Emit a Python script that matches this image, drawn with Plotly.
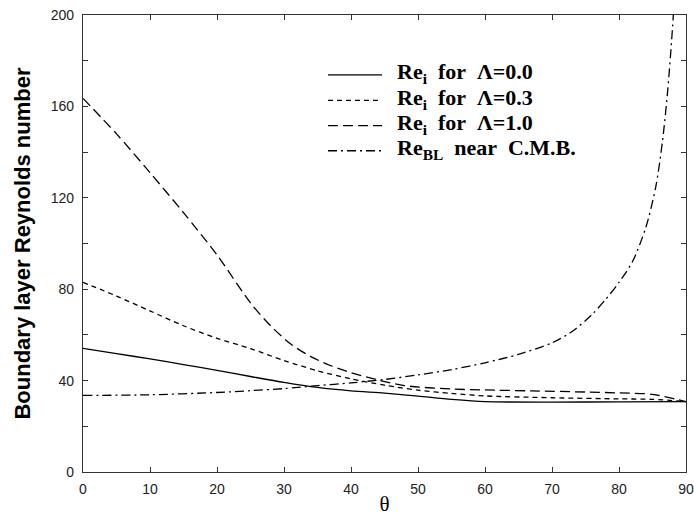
import plotly.graph_objects as go

# theta (degrees) and Reynolds numbers
theta_l0 = [0, 5, 10, 15, 20, 25, 30, 35, 40, 45, 50, 55, 60, 70, 80, 90]
re_l0 = [54.1, 51.8, 49.5, 47.0, 44.5, 41.8, 39.2, 37.0, 35.5, 34.5, 33.2, 31.8, 30.8, 30.6, 30.7, 30.8]

theta_l03 = [0, 5, 10, 15, 20, 25, 30, 35, 40, 45, 50, 55, 60, 70, 80, 85, 90]
re_l03 = [83.0, 77.0, 70.5, 64.0, 58.5, 54.0, 48.8, 44.3, 40.8, 38.0, 35.8, 34.4, 33.3, 32.5, 32.0, 31.8, 30.8]

theta_l1 = [0, 5, 10, 15, 20, 25, 28, 31, 34, 37, 40, 44, 48, 55, 60, 67, 75, 80, 85, 90]
re_l1 = [163.5, 148.0, 131.0, 113.5, 95.0, 74.0, 64.0, 56.0, 50.5, 46.5, 43.5, 40.3, 37.8, 36.3, 35.9, 35.5, 35.0, 34.6, 34.0, 30.8]

theta_bl = [0, 10, 20, 25, 30, 35, 40, 45, 50, 55, 60, 65, 70, 73, 76, 78, 80, 82, 84, 85.5, 86.5, 87.3, 88.0, 88.6]
re_bl = [33.5, 33.8, 34.8, 35.6, 36.5, 37.8, 39.0, 40.5, 42.5, 44.8, 47.8, 51.5, 56.5, 61.5, 69.0, 75.5, 83.0, 92.0, 107.0, 125.0, 145.0, 168.0, 195.0, 225.0]

names = [
    "<b>Re<sub>i</sub>\u00a0\u00a0for\u00a0\u00a0Λ=0.0</b>",
    "<b>Re<sub>i</sub>\u00a0\u00a0for\u00a0\u00a0Λ=0.3</b>",
    "<b>Re<sub>i</sub>\u00a0\u00a0for\u00a0\u00a0Λ=1.0</b>",
    "<b>Re<sub>BL</sub>\u00a0\u00a0near\u00a0\u00a0C.M.B.</b>",
]
dashes = ["solid", "5px,4px", "10px,5px", "9px,4px,2px,4px"]

fig = go.Figure()
series = [(theta_l0, re_l0), (theta_l03, re_l03), (theta_l1, re_l1), (theta_bl, re_bl)]
for (x, y), nm, dash in zip(series, names, dashes):
    fig.add_trace(go.Scatter(
        x=x, y=y, mode="lines", name=nm, showlegend=False,
        line=dict(color="black", width=1.3, dash=dash, shape="spline", smoothing=0.8),
        cliponaxis=True,
    ))

# hand-built legend (line samples + labels) in paper coordinates
leg_x0, leg_x1, leg_tx = 0.4063, 0.4959, 0.518
leg_rows = [0.869, 0.813, 0.758, 0.703]
for nm, dash, ly in zip(names, dashes, leg_rows):
    fig.add_shape(type="line", xref="paper", yref="paper", x0=leg_x0, x1=leg_x1, y0=ly, y1=ly,
                  line=dict(color="black", width=1.3, dash=dash))
    fig.add_annotation(x=leg_tx, y=ly + 0.004, xref="paper", yref="paper", text=nm, showarrow=False,
                       xanchor="left", yanchor="middle",
                       font=dict(family="Liberation Serif, Times New Roman", size=22, color="black"))

axis_common = dict(
    showgrid=False, zeroline=False, showline=True, linecolor="#333", linewidth=1.2,
    mirror="ticks", ticks="inside", ticklen=5, tickcolor="#333", automargin=False,
    tickfont=dict(family="Liberation Sans, Arial", size=14, color="#222"),
)

fig.update_xaxes(
    range=[0, 90], tickvals=list(range(0, 91, 10)), ticklabelstandoff=4,
    title=dict(text="θ", font=dict(family="Liberation Serif, Times New Roman", size=21, color="black"), standoff=2),
    **axis_common,
)
fig.update_yaxes(
    range=[0, 200], tickvals=[0, 40, 80, 120, 160, 200], ticklabelstandoff=5,
    minor=dict(tickvals=[20, 60, 100, 140, 180], ticks="inside", ticklen=5, tickcolor="#333"),
    title=dict(text="<b>Boundary layer Reynolds number</b>",
               font=dict(family="Liberation Sans, Arial", size=22, color="black"), standoff=14),
    **axis_common,
)

fig.update_layout(
    width=694, height=516,
    margin=dict(l=83, r=8, t=15, b=44),
    plot_bgcolor="white", paper_bgcolor="white",
    showlegend=False,
)

fig.write_html("out.html", config={"displayModeBar": False},
               post_script="document.body.style.margin='0';document.body.style.padding='0';")
